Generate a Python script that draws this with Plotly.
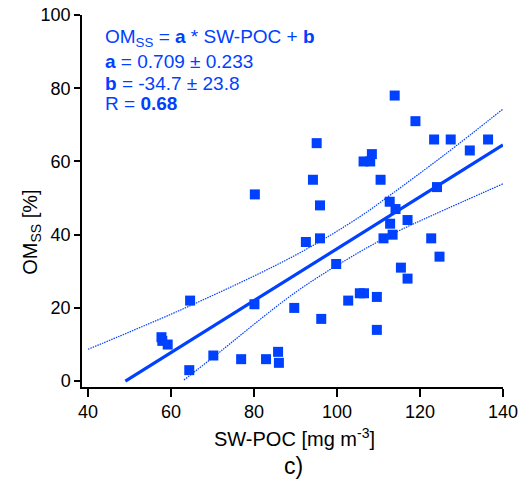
import plotly.graph_objects as go

# SW-POC [mg m-3] vs OM_SS [%] data points
sw_poc = [57.7, 57.9, 59.2, 64.6, 64.4, 70.2, 76.9, 80.1, 80.2, 82.9, 85.8, 86.0,
          89.7, 92.5, 94.2, 95.1, 95.9, 95.9, 96.2, 99.8, 102.7, 105.5, 106.5,
          106.4, 108.0, 108.4, 109.6, 109.6, 110.5, 111.2, 112.7, 112.8, 113.4,
          113.9, 114.1, 115.4, 117.0, 117.0, 118.9, 122.7, 123.4, 124.1, 124.7,
          127.4, 132.0, 136.4]
om_ss = [12, 11, 10, 22, 3, 7, 6, 21, 51, 6, 8, 5,
         20, 38, 55, 65, 48, 39, 17, 32, 22, 24, 24,
         60, 60, 62, 23, 14, 55, 39, 49, 43, 40,
         78, 47, 31, 44, 28, 71, 39, 66, 53, 34,
         66, 63, 66]

# fit line and confidence bands
fit_x = [49.0, 140.0]
fit_y = [0.0, 64.5]
upper_x = [40.0, 65.0, 90.3, 105.5, 112.8, 126.0, 140.2]
upper_y = [8.7, 20.8, 34.6, 44.9, 50.8, 61.9, 74.5]
lower_x = [63.1, 69.8, 90.3, 105.5, 114.8, 123.2, 140.2]
lower_y = [0.3, 6.2, 24.5, 35.3, 41.0, 45.4, 54.0]

x_ticks = [40, 60, 80, 100, 120, 140]
y_ticks = [0, 20, 40, 60, 80, 100]

blue = '#0040ff'
font = 'Liberation Sans, Arial, sans-serif'

fig = go.Figure()
fig.add_trace(go.Scatter(x=upper_x, y=upper_y, mode='lines',
                         line=dict(color=blue, width=1.2, dash='1.5px,1px', shape='spline')))
fig.add_trace(go.Scatter(x=lower_x, y=lower_y, mode='lines',
                         line=dict(color=blue, width=1.2, dash='1.5px,1px', shape='spline')))
fig.add_trace(go.Scatter(x=fit_x, y=fit_y, mode='lines',
                         line=dict(color=blue, width=3.2)))
fig.add_trace(go.Scatter(x=sw_poc, y=om_ss, mode='markers',
                         marker=dict(symbol='square', size=10, color=blue,
                                     line=dict(width=0))))

# fit statistics text
lines = [
    'OM<sub>SS</sub> = <b>a</b> * SW-POC + <b>b</b>',
    '<b>a</b> = 0.709 ± 0.233',
    '<b>b</b> = -34.7 ± 23.8',
    'R = <b>0.68</b>',
]
ys = [93.6, 87.2, 81.4, 75.7]
for txt, yy in zip(lines, ys):
    fig.add_annotation(x=43.6, y=yy, text=txt, showarrow=False, xanchor='left',
                       yanchor='middle', font=dict(family=font, size=19, color=blue))

# axis titles and panel label
fig.add_annotation(x=0.5036, y=-0.137, xref='paper', yref='paper',
                   text='SW-POC [mg m<sup>-3</sup>]', showarrow=False,
                   yanchor='middle', font=dict(family=font, size=20, color='black'))
fig.add_annotation(x=-0.119, y=0.417, xref='paper', yref='paper',
                   text='OM<sub>SS</sub> [%]', showarrow=False, textangle=-90,
                   xanchor='center', yanchor='middle',
                   font=dict(family=font, size=20, color='black'))
fig.add_annotation(x=0.503, y=-0.212, xref='paper', yref='paper', text='c)',
                   showarrow=False, yanchor='middle',
                   font=dict(family=font, size=23, color='black'))

fig.update_layout(
    width=525, height=483,
    margin=dict(l=82, r=22, t=15, b=96),
    plot_bgcolor='white', paper_bgcolor='white',
    showlegend=False,
    font=dict(family=font, size=18, color='black'),
    xaxis=dict(range=[38.55, 140], tickvals=x_ticks, ticks='outside', ticklen=8,
               tickwidth=1.5, tickcolor='black', showline=True, linecolor='black',
               linewidth=1.5, showgrid=False, zeroline=False, automargin=False),
    yaxis=dict(range=[-1.6, 100], tickvals=y_ticks, ticks='outside', ticklen=6,
               tickwidth=1.5, tickcolor='black', showline=True, linecolor='black',
               linewidth=1.5, showgrid=False, zeroline=False, automargin=False),
)

# drop the default page margin so the figure sits at the window's corner
fig.write_html('out.html', config={'displayModeBar': False},
               post_script="document.body.style.margin='0';")
